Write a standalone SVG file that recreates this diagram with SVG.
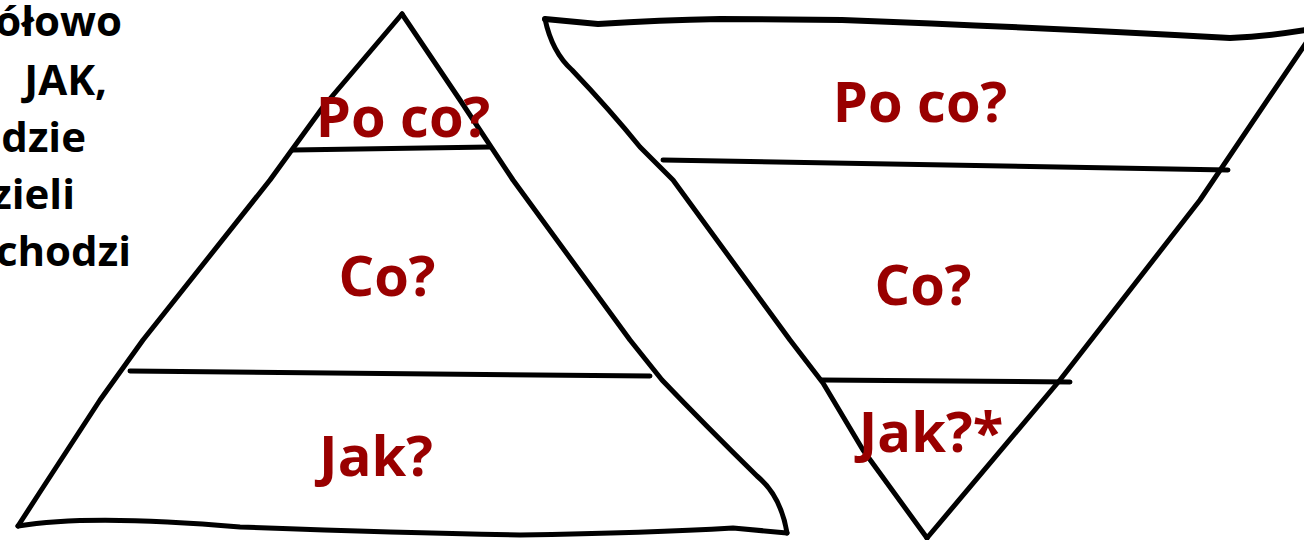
<svg xmlns="http://www.w3.org/2000/svg" width="1304" height="540" viewBox="0 0 1304 540">
  <style>
    .ln { fill: none; stroke: #000; stroke-width: 5; stroke-linecap: round; stroke-linejoin: round; }
    .top { stroke-width: 6; }
    .lbl { font-family: "Open Sans", "Noto Sans", "Liberation Sans", sans-serif; font-weight: 700; font-size: 56px; fill: #990000; text-anchor: middle; }
    .side { font-family: "Open Sans", "Noto Sans", "Liberation Sans", sans-serif; font-weight: 700; font-size: 42px; fill: #000; text-anchor: end; }
  </style>
  <rect width="1304" height="540" fill="#fff"/>

  <g id="side-text">
    <text class="side" x="122" y="36">ółowo</text>
    <text class="side" x="107" y="95">JAK,</text>
    <text class="side" x="86" y="152">dzie</text>
    <text class="side" x="75" y="209">zieli</text>
    <text class="side" x="131" y="266">chodzi</text>
  </g>

  <g id="pyramid">
    <path class="ln" d="M402,14 L323,107 L270,180 L143,340 L100,400 L40,492 L18,526"/>
    <path class="ln" d="M18,526 Q90,514 240,527 Q400,533 520,535 Q650,533 733,528 L787,533"/>
    <path class="ln" d="M787,533 Q781,496 757,476 Q705,425 662,380 L630,340 L513,180 L460,100 L402,14"/>
    <path class="ln" d="M293,150 L490,147"/>
    <path class="ln" d="M130,371 L650,376"/>
    <text class="lbl" x="403" y="137">Po co?</text>
    <text class="lbl" x="387" y="296">Co?</text>
    <text class="lbl" x="376" y="476">Jak?</text>
  </g>

  <g id="inverted-pyramid">
    <path class="ln top" d="M545,19 L598,24 Q660,20 720,19 L842,20 Q1050,28 1230,38 Q1270,36 1306,30"/>
    <path class="ln" d="M545,19 Q552,52 572,70 Q610,110 640,147 L673,180 L790,340 L823,383 L863,450 L927,538"/>
    <path class="ln" d="M927,538 L1060,380 L1200,200 L1308,40"/>
    <path class="ln" d="M663,160 L1228,170"/>
    <path class="ln" d="M822,380 L1070,382"/>
    <text class="lbl" x="920" y="122">Po co?</text>
    <text class="lbl" x="923" y="305">Co?</text>
    <text class="lbl" x="931" y="452">Jak?*</text>
  </g>

  <g id="connectors"></g>
</svg>
